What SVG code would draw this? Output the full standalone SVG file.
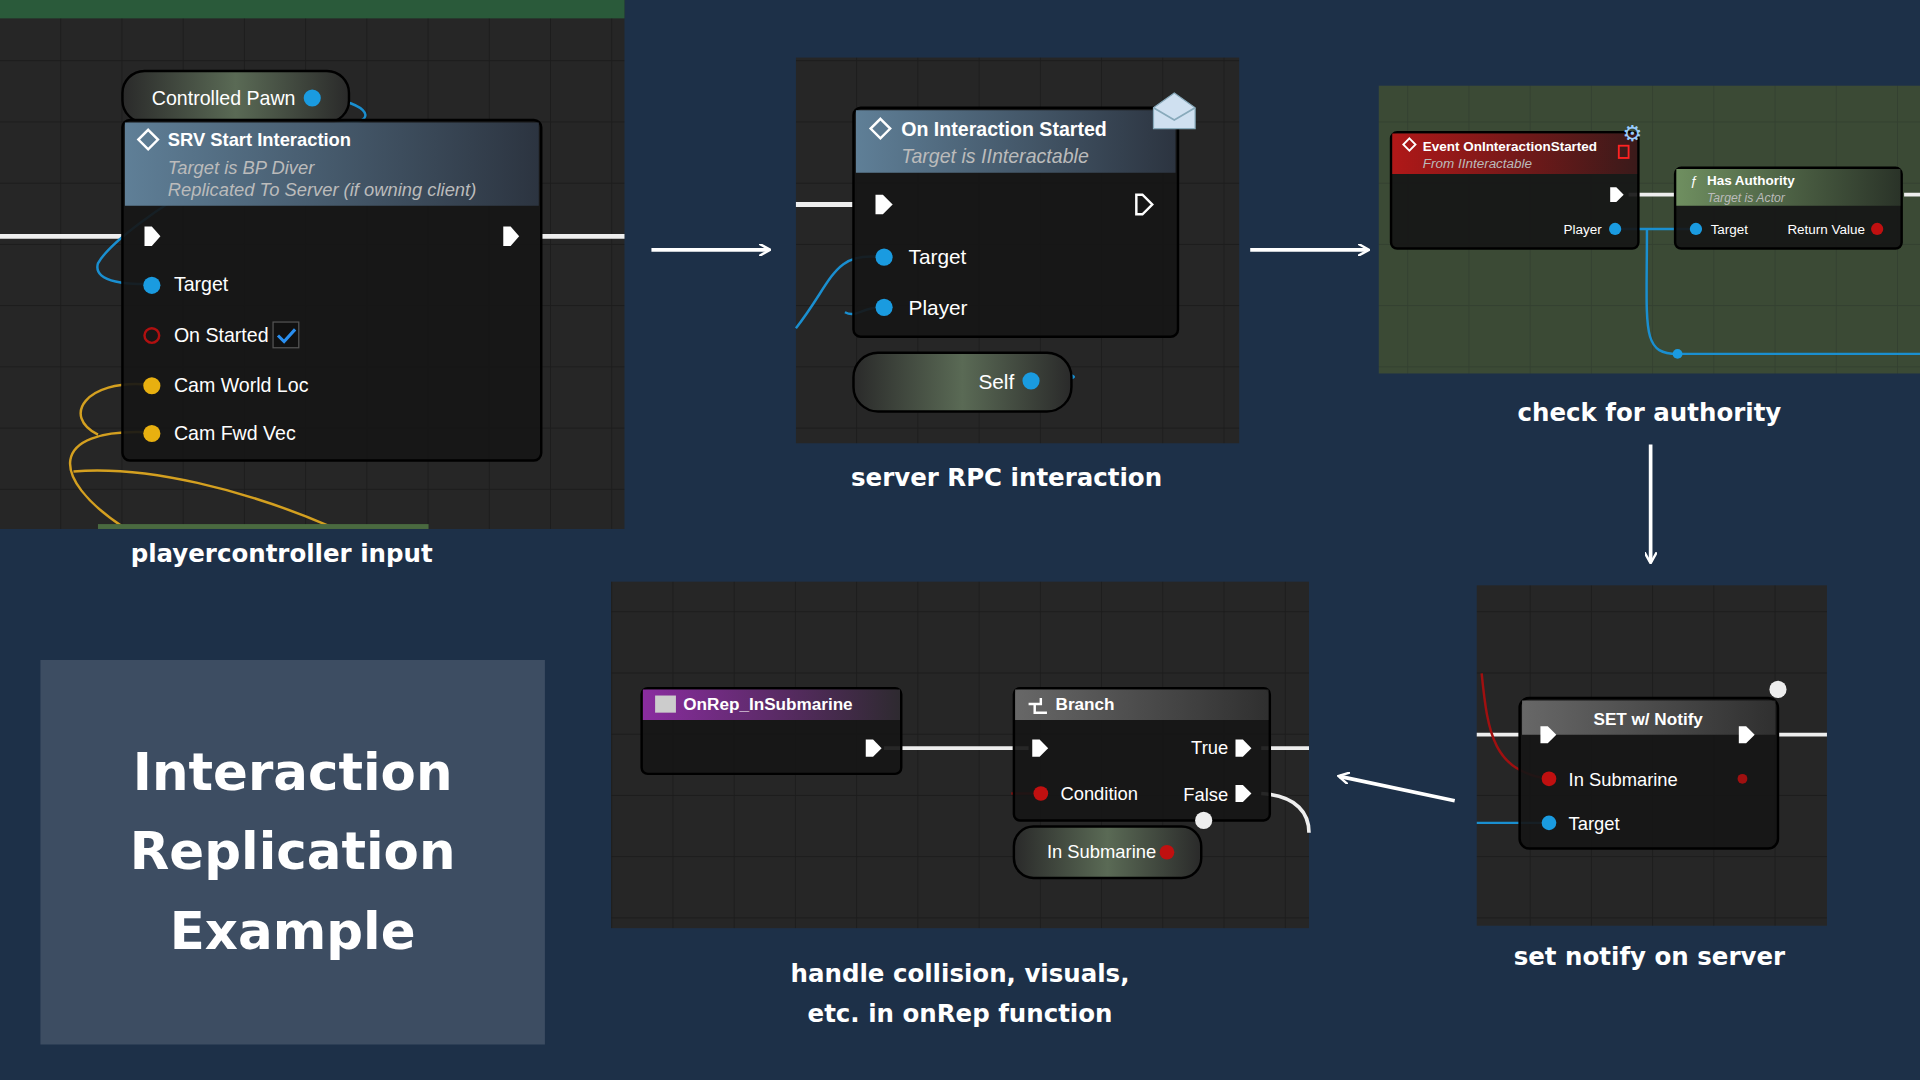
<svg xmlns="http://www.w3.org/2000/svg" width="1920" height="1080" viewBox="0 0 1920 1080">
<defs>
<pattern id="grid" width="50" height="50" patternUnits="userSpaceOnUse"><rect width="50" height="50" fill="#262626"/><path d="M50 0V50H0" fill="none" stroke="#1c1c1c" stroke-width="1.5"/></pattern>
<pattern id="ggrid" width="50" height="50" patternUnits="userSpaceOnUse"><rect width="50" height="50" fill="#3b4a35"/><path d="M50 0V50H0" fill="none" stroke="#334030" stroke-width="1.5"/></pattern>
<linearGradient id="hblue" x1="0" x2="1"><stop offset="0" stop-color="#5f7f97"/><stop offset="1" stop-color="#2c3440"/></linearGradient>
<linearGradient id="hred" x1="0" x2="1"><stop offset="0" stop-color="#b01818"/><stop offset="1" stop-color="#3a1a1a"/></linearGradient>
<linearGradient id="hgreen" x1="0" x2="1"><stop offset="0" stop-color="#6f8f60"/><stop offset="1" stop-color="#2a3328"/></linearGradient>
<linearGradient id="hpurple" x1="0" x2="1"><stop offset="0" stop-color="#8a2ca0"/><stop offset="1" stop-color="#2e2a30"/></linearGradient>
<linearGradient id="hgray" x1="0" x2="1"><stop offset="0" stop-color="#8a8a8a"/><stop offset="1" stop-color="#3a3a3a"/></linearGradient>
<linearGradient id="pill" x1="0" x2="1"><stop offset="0" stop-color="#2a2a2a"/><stop offset="0.5" stop-color="#5a6a55"/><stop offset="1" stop-color="#2a2a2a"/></linearGradient>
<marker id="ah" markerWidth="10" markerHeight="10" refX="8" refY="5" orient="auto" markerUnits="userSpaceOnUse"><path d="M0 0L9 5L0 10" fill="none" stroke="#fff" stroke-width="2"/></marker>
</defs>
<style>
.node{fill:#161616;stroke:#000;stroke-width:2;fill-opacity:.92}
.t{font-family:"Liberation Sans",Arial,sans-serif;fill:#fff}
.ti{font-family:"Liberation Sans",Arial,sans-serif;fill:#bbb;font-style:italic}
.lbl{font-family:"DejaVu Sans",sans-serif;font-weight:bold;fill:#fff;text-anchor:middle}
.exec{fill:#fff}
.arr{stroke:#fff;stroke-width:3;fill:none;marker-end:url(#ah)}
</style>
<rect width="1920" height="1080" fill="#1d3048"/>
<g transform="scale(1.2245)">
<g id="panel1">
<rect x="0" y="0" width="510" height="432" fill="url(#grid)"/>
<rect x="0" y="0" width="510" height="15" fill="#2a5a3a"/>
<path d="M0 193H100M442 193H510" stroke="#eee" stroke-width="4"/>
<path d="M255 80C300 80 310 100 285 100C240 100 100 180 80 215C75 232 110 232 120 232" stroke="#1a8fd0" stroke-width="2" fill="none"/>
<path d="M120 314C70 310 50 340 80 355M120 353C40 350 40 390 100 430M270 430C200 400 120 380 60 385" stroke="#d4a020" stroke-width="2" fill="none"/>
<rect x="100" y="58" width="185" height="42" rx="18" fill="url(#pill)" stroke="#000" stroke-width="2"/>
<text class="t" x="124" y="86" font-size="16">Controlled Pawn</text>
<circle cx="255" cy="80" r="7" fill="#1a9be0"/>
<rect class="node" x="100" y="98" width="342" height="278" rx="6"/>
<path d="M102 100H440V168H102Z" fill="url(#hblue)"/>
<text class="t" x="137" y="119" font-size="15" font-weight="bold">SRV Start Interaction</text>
<path d="M121 106l8 8-8 8-8-8z" fill="none" stroke="#fff" stroke-width="2"/>
<text class="ti" x="137" y="142" font-size="15">Target is BP Diver</text>
<text class="ti" x="137" y="160" font-size="15">Replicated To Server (if owning client)</text>
<path class="exec" d="M118 185h6l7 8-7 8h-6z"/><path class="exec" d="M411 185h6l7 8-7 8h-6z"/>
<circle cx="124" cy="233" r="7" fill="#1a9be0"/><text class="t" x="142" y="238" font-size="16">Target</text>
<circle cx="124" cy="274" r="6" fill="none" stroke="#b01010" stroke-width="2"/><text class="t" x="142" y="279" font-size="16">On Started</text>
<rect x="223" y="263" width="21" height="21" fill="#111" stroke="#555"/><path d="M227 274l5 5 9-10" stroke="#2a8ff0" stroke-width="2.5" fill="none"/>
<circle cx="124" cy="315" r="7" fill="#e8b010"/><text class="t" x="142" y="320" font-size="16">Cam World Loc</text>
<circle cx="124" cy="354" r="7" fill="#e8b010"/><text class="t" x="142" y="359" font-size="16">Cam Fwd Vec</text>
<rect x="80" y="428" width="270" height="4" fill="#4a6a40"/>
</g>
<g id="panel2">
<rect x="650" y="47" width="362" height="315" fill="url(#grid)"/>
<path d="M650 167H697" stroke="#eee" stroke-width="4"/>
<path d="M650 268C680 230 680 205 720 210M690 255C700 260 705 250 722 251M845 311C890 311 880 305 860 305" stroke="#1a8fd0" stroke-width="2" fill="none"/>
<rect class="node" x="697" y="88" width="265" height="187" rx="6"/>
<path d="M699 90H960V141H699Z" fill="url(#hblue)"/>
<path d="M719 97l8 8-8 8-8-8z" fill="none" stroke="#fff" stroke-width="2"/>
<text class="t" x="736" y="111" font-size="16" font-weight="bold" fill="#ddd">On Interaction Started</text>
<text class="ti" x="736" y="133" font-size="16">Target is IInteractable</text>
<path d="M942 88l17-12 17 12v17h-34z" fill="#cfe0f0" stroke="#8ab"/>
<path d="M942 88l17 10 17-10" fill="none" stroke="#8ab" stroke-width="1.5"/>
<path class="exec" d="M715 159h6l8 8-8 8h-6z"/><path d="M928 159h5l8 8-8 8h-5z" fill="none" stroke="#fff" stroke-width="2"/>
<circle cx="722" cy="210" r="7" fill="#1a9be0"/><text class="t" x="742" y="216" font-size="17">Target</text>
<circle cx="722" cy="251" r="7" fill="#1a9be0"/><text class="t" x="742" y="257" font-size="17">Player</text>
<rect x="697" y="288" width="178" height="48" rx="20" fill="url(#pill)" stroke="#000" stroke-width="2"/>
<text class="t" x="799" y="318" font-size="17">Self</text><circle cx="842" cy="311" r="7" fill="#1a9be0"/>
</g>
<g id="panel3">
<rect x="1126" y="70" width="442" height="235" fill="url(#ggrid)"/>
<path d="M1330 159H1370M1555 159H1568" stroke="#eee" stroke-width="3"/>
<path d="M1322 187H1385M1345 187C1345 270 1340 289 1370 289H1568" stroke="#1a8fd0" stroke-width="2" fill="none"/>
<rect class="node" x="1136" y="108" width="202" height="95" rx="5"/>
<path d="M1137 109H1337V142H1137Z" fill="url(#hred)"/>
<text class="t" x="1162" y="123" font-size="11" font-weight="bold">Event OnInteractionStarted</text>
<text class="ti" x="1162" y="137" font-size="11">From IInteractable</text>
<path d="M1151 113l5 5-5 5-5-5z" fill="none" stroke="#fff" stroke-width="1.5"/>
<rect x="1322" y="119" width="8" height="10" fill="none" stroke="#f22" stroke-width="1.5"/>
<text x="1325" y="115" font-size="18" fill="#9cf" font-family="DejaVu Sans,sans-serif">⚙</text>
<path class="exec" d="M1315 153h5l6 6-6 6h-5z"/>
<text class="t" x="1308" y="191" font-size="11" text-anchor="end">Player</text><circle cx="1319" cy="187" r="5" fill="#1a9be0"/>
<rect class="node" x="1368" y="137" width="185" height="66" rx="5"/>
<path d="M1369 138H1552V168H1369Z" fill="url(#hgreen)"/>
<text class="t" x="1380" y="151" font-size="11" font-style="italic">ƒ</text>
<text class="t" x="1394" y="151" font-size="11" font-weight="bold">Has Authority</text>
<text class="ti" x="1394" y="165" font-size="10">Target is Actor</text>
<circle cx="1385" cy="187" r="5" fill="#1a9be0"/><text class="t" x="1397" y="191" font-size="11">Target</text>
<text class="t" x="1523" y="191" font-size="11" text-anchor="end">Return Value</text><circle cx="1533" cy="187" r="5" fill="#c01010"/>
<circle cx="1370" cy="289" r="4" fill="#1a9be0"/>
</g>
<g id="panel4">
<rect x="1206" y="478" width="286" height="278" fill="url(#grid)"/>
<path d="M1206 600H1242M1452 600H1492" stroke="#eee" stroke-width="3"/>
<path d="M1206 672H1265" stroke="#1a8fd0" stroke-width="2"/>
<path d="M1210 550C1215 600 1220 630 1265 636" stroke="#a01010" stroke-width="2" fill="none"/>
<rect class="node" x="1241" y="570" width="211" height="123" rx="8"/>
<path d="M1243 572H1450V600H1243Z" fill="url(#hgray)" opacity=".7"/>
<text class="t" x="1346" y="592" font-size="14" font-weight="bold" text-anchor="middle" fill="#ddd">SET w/ Notify</text>
<path class="exec" d="M1258 593h6l7 7-7 7h-6z"/><path class="exec" d="M1420 593h6l7 7-7 7h-6z"/>
<circle cx="1265" cy="636" r="6" fill="#c01010"/><text class="t" x="1281" y="642" font-size="15">In Submarine</text>
<circle cx="1423" cy="636" r="4" fill="#a01010"/>
<circle cx="1265" cy="672" r="6" fill="#1a9be0"/><text class="t" x="1281" y="678" font-size="15">Target</text>
<circle cx="1452" cy="563" r="7" fill="#eee"/>
</g>
<g id="panel5">
<rect x="499" y="475" width="570" height="283" fill="url(#grid)"/>
<path d="M722 611H840M1030 611H1069" stroke="#eee" stroke-width="3"/>
<path d="M1030 648C1060 650 1069 665 1069 680" stroke="#eee" stroke-width="3" fill="none"/>
<path d="M826 648H850" stroke="#a01010" stroke-width="2"/>
<rect class="node" x="524" y="562" width="212" height="70" rx="5"/>
<path d="M525 563H735V588H525Z" fill="url(#hpurple)"/>
<rect x="535" y="568" width="17" height="14" fill="#ccc"/>
<text class="t" x="558" y="580" font-size="14" font-weight="bold">OnRep_InSubmarine</text>
<path class="exec" d="M707 604h6l7 7-7 7h-6z"/>
<rect class="node" x="828" y="562" width="209" height="108" rx="5"/>
<path d="M829 563H1036V588H829Z" fill="url(#hgray)" opacity=".7"/>
<text class="t" x="862" y="580" font-size="14" font-weight="bold">Branch</text>
<path d="M840 575h10v-5M845 575v7h10" stroke="#fff" stroke-width="2" fill="none"/>
<path class="exec" d="M843 604h6l7 7-7 7h-6z"/><path class="exec" d="M1009 604h6l7 7-7 7h-6z"/><path class="exec" d="M1009 641h6l7 7-7 7h-6z"/>
<text class="t" x="1003" y="616" font-size="15" text-anchor="end">True</text>
<text class="t" x="1003" y="654" font-size="15" text-anchor="end">False</text>
<circle cx="850" cy="648" r="6" fill="#c01010"/><text class="t" x="866" y="653" font-size="15">Condition</text>
<rect x="828" y="675" width="153" height="42" rx="16" fill="url(#pill)" stroke="#000" stroke-width="2"/>
<text class="t" x="855" y="701" font-size="15">In Submarine</text><circle cx="953" cy="696" r="6" fill="#c01010"/>
<circle cx="983" cy="670" r="7" fill="#eee"/>
</g>
<g id="connectors">
<path class="arr" d="M532 204H628"/>
<path class="arr" d="M1021 204H1117"/>
<path class="arr" d="M1348 363V459"/>
<path class="arr" d="M1188 654L1094 634"/>
</g>
<g id="labels" font-size="20">
<text class="lbl" x="230" y="459">playercontroller input</text>
<text class="lbl" x="822" y="397">server RPC interaction</text>
<text class="lbl" x="1347" y="344">check for authority</text>
<text class="lbl" x="1347" y="788">set notify on server</text>
<text class="lbl" x="784" y="802">handle collision, visuals,</text>
<text class="lbl" x="784" y="835">etc. in onRep function</text>
</g>
<g id="title" font-size="42">
<rect x="33" y="539" width="412" height="314" fill="#3d4d62"/>
<text class="lbl" x="239" y="645">Interaction</text>
<text class="lbl" x="239" y="710">Replication</text>
<text class="lbl" x="239" y="775">Example</text>
</g>
</g>
</svg>
